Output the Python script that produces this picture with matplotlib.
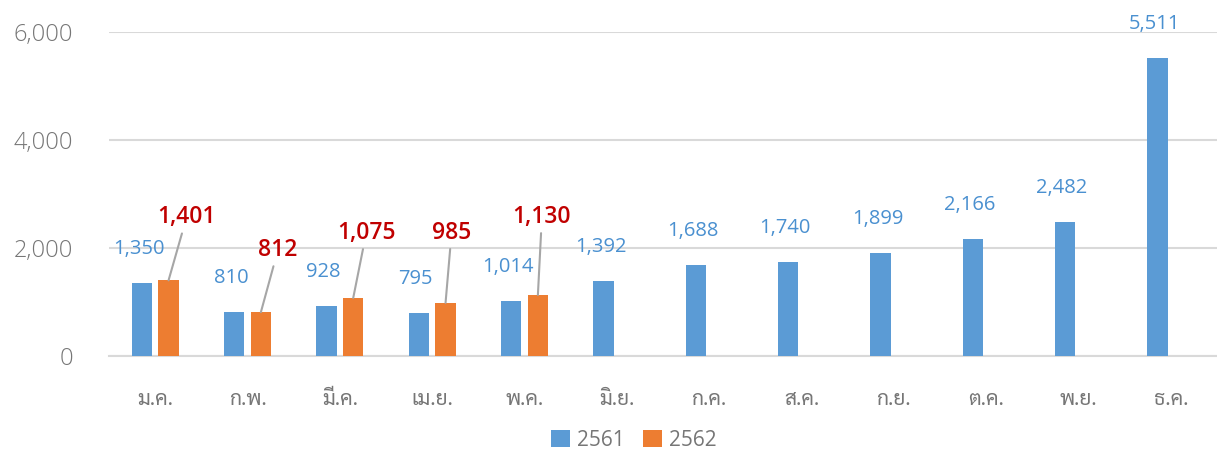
import os
import numpy as np
import matplotlib
matplotlib.use("Agg")
import matplotlib.pyplot as plt
from matplotlib import font_manager as fm

# ---------------- data ----------------
months = ["ม.ค.", "ก.พ.", "มี.ค.", "เม.ย.", "พ.ค.", "มิ.ย.",
          "ก.ค.", "ส.ค.", "ก.ย.", "ต.ค.", "พ.ย.", "ธ.ค."]
series_names = ["2561", "2562"]
values_2561 = [1350, 810, 928, 795, 1014, 1392, 1688, 1740, 1899, 2166, 2482, 5511]
values_2562 = [1401, 812, 1075, 985, 1130, None, None, None, None, None, None, None]
yticks = [0, 2000, 4000, 6000]

# label placement for the 2562 callouts (pixels from bar top): styling only
callout_offsets = [(18, -63), (17, -62), (13, -65), (6, -70), (4, -78)]

# ---------------- fonts ----------------
thai_family = "DejaVu Sans"
preferred = ["NotoSansThaiLooped-Light.ttf", "NotoSansThaiLooped-Regular.ttf",
             "NotoSansThai-Regular.ttf", "Sarabun-Regular.ttf",
             "IBMPlexSansThaiLooped-Regular.ttf"]
try:
    sysfonts = fm.findSystemFonts()
    byname = {os.path.basename(p): p for p in sysfonts}
    for name in preferred:
        if name in byname:
            fm.fontManager.addfont(byname[name])
            thai_family = fm.FontProperties(fname=byname[name]).get_name()
            break
except Exception:
    pass

num_font = "Open Sans"
plt.rcParams["font.family"] = [num_font, "DejaVu Sans"]

blue = "#5B9BD5"
orange = "#ED7D31"
blue_txt = "#4A90D0"
red_txt = "#C00000"
grid_c = "#D9D9D9"
tick_c = "#767676"

fig = plt.figure(figsize=(12.17, 4.5), dpi=100)
ax = fig.add_axes([109 / 1217, 1 - 356 / 450, 1 - 109 / 1217, (356 - 32) / 450])

x = np.arange(len(months))
w = 0.22
off = 0.145
v1 = np.array(values_2561, dtype=float)
v2 = np.array([np.nan if v is None else v for v in values_2562], dtype=float)

b1 = ax.bar(x - off, v1, w, color=blue, label=series_names[0], zorder=3)
b2 = ax.bar(x + off, v2, w, color=orange, label=series_names[1], zorder=3)

ax.set_xlim(-0.5, len(months) - 0.5)
ax.set_ylim(0, 6000)
ax.set_yticks(yticks)
ax.set_yticklabels([f"{t:,}" for t in yticks], fontweight="light")
ax.yaxis.grid(True, color=grid_c, linewidth=1.5, zorder=0)
ax.set_axisbelow(True)
for s in ["top", "right", "left"]:
    ax.spines[s].set_visible(False)
ax.spines["bottom"].set_color(grid_c)
ax.spines["bottom"].set_linewidth(1.5)
ax.tick_params(axis="both", length=0)
ax.tick_params(axis="y", labelsize=17, labelcolor=tick_c, pad=26)
ax.set_xticks(x)
ax.set_xticklabels(months, family=[thai_family, "DejaVu Sans"], fontsize=15, color=tick_c)
ax.tick_params(axis="x", pad=24)

# blue data labels
for xi, v in zip(x, v1):
    ax.annotate(f"{int(v):,}", xy=(xi - off, v), xytext=(-3, 34),
                textcoords="offset pixels", ha="center", va="center",
                fontsize=14.5, color=blue_txt, zorder=5)

# orange callout labels with leader lines
k = 0
for xi, v in zip(x, v2):
    if np.isnan(v):
        continue
    dx, dy = callout_offsets[k]
    k += 1
    ax.annotate(f"{int(v):,}", xy=(xi + off, v), xytext=(dx, -dy),
                textcoords="offset pixels", ha="center", va="center",
                fontsize=16.5, color=red_txt, fontweight="semibold", zorder=5,
                arrowprops=dict(arrowstyle="-", color="#A6A6A6", lw=1.5,
                                shrinkA=1, shrinkB=0))

leg = fig.legend(handles=[b1, b2], labels=series_names, loc="center",
                 bbox_to_anchor=(634 / 1217, 1 - 440 / 450), ncol=2, frameon=False,
                 fontsize=15, handlelength=0.9, handleheight=0.9,
                 handletextpad=0.35, columnspacing=0.9, labelcolor=tick_c)

fig.savefig("out.png", dpi=100)
